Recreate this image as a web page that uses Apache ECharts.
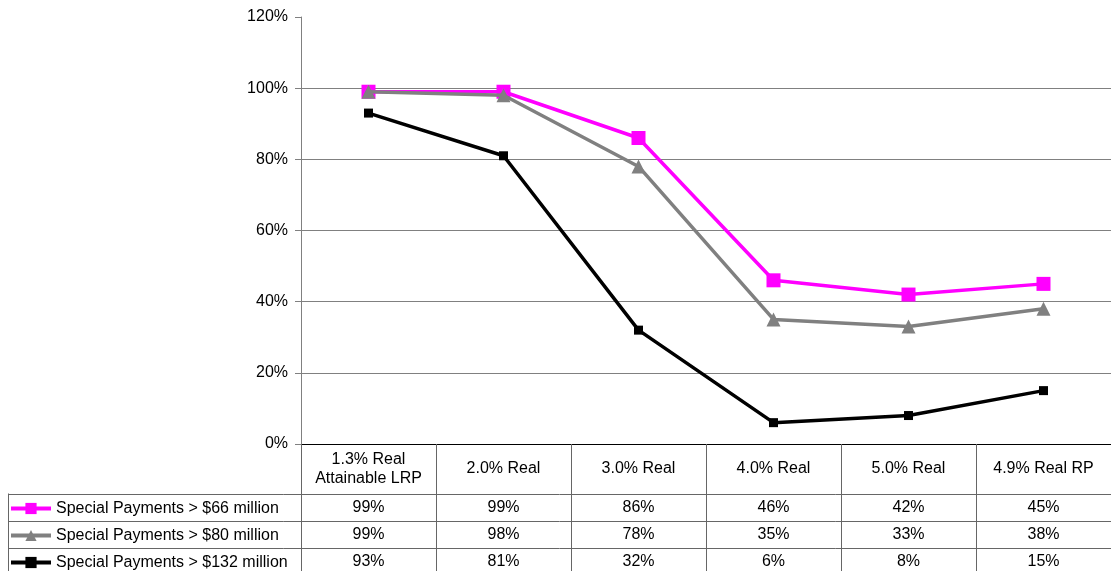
<!DOCTYPE html>
<html>
<head>
<meta charset="utf-8">
<script src="https://cdn.jsdelivr.net/npm/echarts@6/dist/echarts.min.js"></script>
<style>
  html, body { margin: 0; padding: 0; background: #fff; }
  #chart { width: 1111px; height: 571px; }
</style>
</head>
<body>
<div id="chart"></div>
<script>
// Scenario columns (header row of the data table)
const categories = ['1.3% Real\nAttainable LRP', '2.0% Real', '3.0% Real', '4.0% Real', '5.0% Real', '4.9% Real RP'];

// Probability (%) of special payments exceeding each threshold
const seriesNames = [
  'Special Payments > $66 million',
  'Special Payments > $80 million',
  'Special Payments > $132 million'
];
const over66 = [99, 99, 86, 46, 42, 45];
const over80 = [99, 98, 78, 35, 33, 38];
const over132 = [93, 81, 32, 6, 8, 15];

const yTicks = { min: 0, max: 120, interval: 20 };

const FONT = 'Arial, "Liberation Sans", sans-serif';
const FONT_SIZE = 16;
const TABLE_LINE = '#666666';

// Table geometry (pixels)
const headerBottom = 493.5;
const rowH = 27;
const tableLeft = 8;

// one legend per table row, so each key sits in its own cell
const legends = seriesNames.map((name, r) => ({
  orient: 'horizontal',
  left: tableLeft + 1,
  top: headerBottom + r * rowH + rowH / 2 - 6.5,
  padding: 0,
  itemWidth: 40,
  itemHeight: 14,
  selectedMode: false,
  lineStyle: { width: 4 },
  textStyle: { fontFamily: FONT, fontSize: FONT_SIZE, color: '#000', lineHeight: 14 },
  data: [name]
}));

const chart = echarts.init(document.getElementById('chart'), null, { renderer: 'canvas' });

const option = {
  animation: false,
  backgroundColor: '#ffffff',
  textStyle: { fontFamily: FONT },
  grid: { left: 301, top: 17, right: -7.5, bottom: 127, containLabel: false },
  legend: legends,
  xAxis: {
    type: 'category',
    data: categories,
    boundaryGap: true,
    axisLine: { lineStyle: { color: '#000', width: 1 } },
    axisTick: { show: true, interval: 0, inside: false, length: 130, lineStyle: { color: TABLE_LINE } },
    axisLabel: {
      interval: 0,
      margin: 25,
      verticalAlign: 'middle',
      fontFamily: FONT,
      fontSize: FONT_SIZE,
      color: '#000',
      lineHeight: 19,
      align: 'center'
    },
    splitLine: { show: false }
  },
  yAxis: {
    type: 'value',
    min: yTicks.min,
    max: yTicks.max,
    interval: yTicks.interval,
    axisLine: { show: true, lineStyle: { color: '#808080' } },
    axisTick: { show: true, length: 6, lineStyle: { color: '#808080' } },
    axisLabel: { formatter: '{value}%', fontFamily: FONT, fontSize: FONT_SIZE, color: '#000', margin: 13 },
    splitLine: { show: true, showMaxLine: false, lineStyle: { color: '#808080', width: 1 } }
  },
  series: [
    {
      name: seriesNames[0], type: 'line', data: over66,
      symbol: 'rect', symbolSize: 14,
      lineStyle: { color: '#ff00ff', width: 3.5 },
      itemStyle: { color: '#ff00ff' },
      z: 2
    },
    {
      name: seriesNames[1], type: 'line', data: over80,
      symbol: 'triangle', symbolSize: 14,
      lineStyle: { color: '#808080', width: 3.5 },
      itemStyle: { color: '#808080' },
      z: 3
    },
    {
      name: seriesNames[2], type: 'line', data: over132,
      symbol: 'rect', symbolSize: 9,
      lineStyle: { color: '#000000', width: 3.5 },
      itemStyle: { color: '#000000' },
      z: 4
    }
  ]
};

chart.setOption(option);

// Data table below the plot: borders plus one value row per series
const rows = [over66, over80, over132];
const graphics = [];
const right = 1111;

// horizontal rules
for (let r = 0; r <= rows.length; r++) {
  const y = Math.round(headerBottom + r * rowH) + 0.5;
  graphics.push({
    type: 'line',
    shape: { x1: tableLeft, y1: y, x2: right, y2: y },
    style: { stroke: TABLE_LINE, lineWidth: 1 },
    silent: true
  });
}
// left border of the legend column
graphics.push({
  type: 'line',
  shape: { x1: tableLeft + 0.5, y1: headerBottom, x2: tableLeft + 0.5, y2: 571 },
  style: { stroke: TABLE_LINE, lineWidth: 1 },
  silent: true
});

rows.forEach((vals, r) => {
  const cy = headerBottom + r * rowH + rowH / 2 + 0.5;
  vals.forEach((v, i) => {
    const cx = chart.convertToPixel({ xAxisIndex: 0 }, i);
    graphics.push({
      type: 'text',
      x: cx,
      y: cy,
      style: {
        text: v + '%',
        fontFamily: FONT,
        fontSize: FONT_SIZE,
        fill: '#000',
        align: 'center',
        verticalAlign: 'middle'
      },
      silent: true
    });
  });
});

chart.setOption({ graphic: graphics });
</script>
</body>
</html>
